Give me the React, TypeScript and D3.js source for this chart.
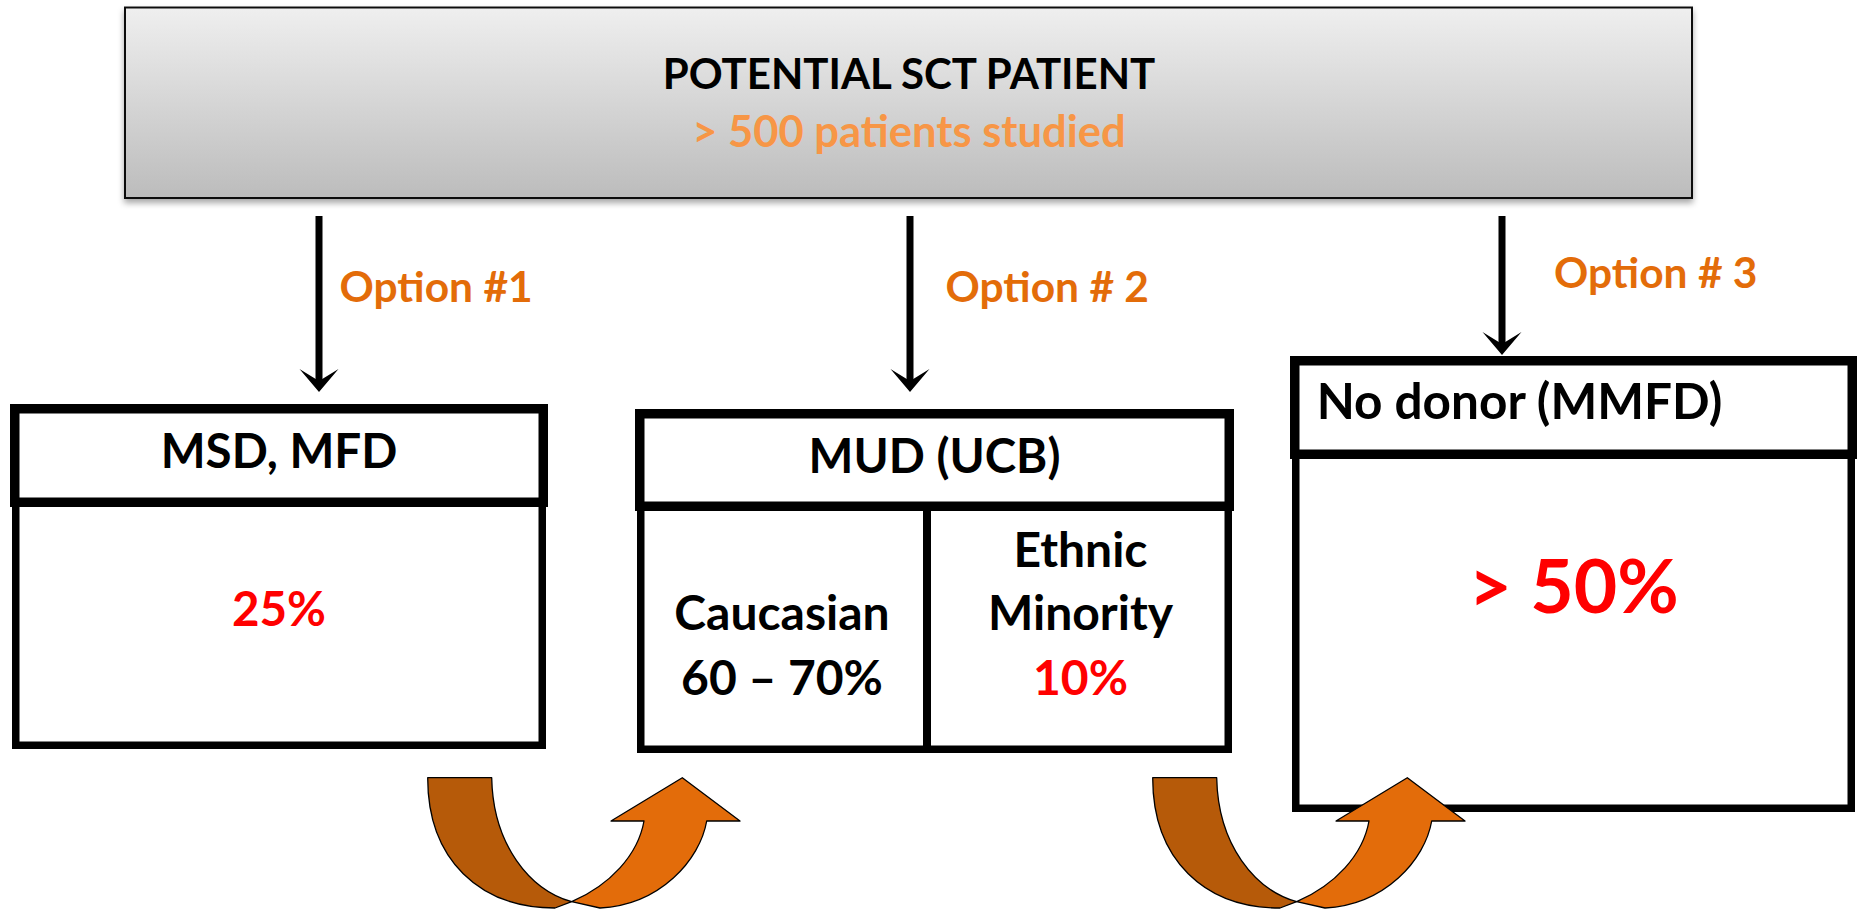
import { useEffect, useRef } from 'react';
import * as d3 from 'd3';

// text content of the diagram
const title = 'POTENTIAL SCT PATIENT';
const subtitle = '> 500 patients studied';
const optionLabels = ['Option #1', 'Option # 2', 'Option # 3'];
const donorTypes = ['MSD, MFD', 'MUD (UCB)', 'No donor (MMFD)'];
const donorRates = ['25%', null, '> 50%'];
const mudGroups = [['Caucasian'], ['Ethnic', 'Minority']];
const mudRates = ['60 – 70%', '10%'];

// layout (px)
const W = 1860;
const H = 909;
const FONT = 'Lato, "Open Sans", sans-serif';
const boxes = [
  { x0: 10, x1: 548, top: 404, div: 507, bot: 749 },
  { x0: 635, x1: 1234, top: 409, div: 511, bot: 753 },
  { x0: 1290, x1: 1857, top: 356, div: 459, bot: 812 },
];
const arrowX = [319, 910, 1502];
const arrowTip = [392, 392, 355];
const optionPos = [[339.5, 301.7], [945.5, 301.7], [1554, 287.5]];
const uturnOffsets = [0, 725];

const App = () => {
  const svgRef = useRef(null);

  useEffect(() => {
    if (!svgRef.current) return;
    const svg = d3.select(svgRef.current);
    svg.selectAll('*').remove();

    const defs = svg.append('defs');
    const grad = defs.append('linearGradient')
      .attr('id', 'topGrad')
      .attr('x1', 0).attr('y1', 0).attr('x2', 0).attr('y2', 1);
    grad.append('stop').attr('offset', '0%').attr('stop-color', '#efefef');
    grad.append('stop').attr('offset', '100%').attr('stop-color', '#bcbcbc');
    defs.append('filter')
      .attr('id', 'shadow')
      .attr('x', '-5%').attr('y', '-10%').attr('width', '110%').attr('height', '130%')
      .append('feDropShadow')
      .attr('dx', 0).attr('dy', 4).attr('stdDeviation', 3)
      .attr('flood-color', '#000').attr('flood-opacity', 0.35);

    // top box
    svg.append('rect')
      .attr('x', 125).attr('y', 7.5)
      .attr('width', 1567).attr('height', 190.5)
      .attr('fill', 'url(#topGrad)')
      .attr('stroke', '#111')
      .attr('stroke-width', 2)
      .attr('filter', 'url(#shadow)');

    svg.append('text')
      .attr('x', 909).attr('y', 89)
      .attr('text-anchor', 'middle')
      .attr('font-size', 42)
      .attr('fill', '#000')
      .text(title);
    svg.append('text')
      .attr('x', 909).attr('y', 146.5)
      .attr('text-anchor', 'middle')
      .attr('font-size', 43.5)
      .attr('fill', '#f79646')
      .text(subtitle);

    // straight arrows + option labels
    arrowX.forEach((x, i) => {
      const tip = arrowTip[i];
      svg.append('line')
        .attr('x1', x).attr('x2', x)
        .attr('y1', 216).attr('y2', tip - 10)
        .attr('stroke', '#000')
        .attr('stroke-width', 7);
      const p = d3.path();
      p.moveTo(x, tip);
      p.lineTo(x - 19.5, tip - 23);
      p.lineTo(x, tip - 11);
      p.lineTo(x + 19.5, tip - 23);
      p.closePath();
      svg.append('path').attr('d', p.toString()).attr('fill', '#000');

      svg.append('text')
        .attr('x', optionPos[i][0]).attr('y', optionPos[i][1])
        .attr('font-size', 42.5)
        .attr('fill', '#e36c09')
        .text(optionLabels[i]);
    });

    // donor boxes
    const sh = 9.5;
    const sb = 7.5;
    boxes.forEach((b, i) => {
      const g = svg.append('g');
      g.append('rect')
        .attr('x', b.x0 + 2 + sb / 2)
        .attr('y', b.div - 5)
        .attr('width', b.x1 - b.x0 - 4 - sb)
        .attr('height', b.bot - sb / 2 - (b.div - 5))
        .attr('fill', '#fff')
        .attr('stroke', '#000')
        .attr('stroke-width', sb);
      g.append('rect')
        .attr('x', b.x0 + sh / 2)
        .attr('y', b.top + sh / 2)
        .attr('width', b.x1 - b.x0 - sh)
        .attr('height', b.div - b.top - sh)
        .attr('fill', '#fff')
        .attr('stroke', '#000')
        .attr('stroke-width', sh);

      const left = i === 2;
      g.append('text')
        .attr('x', left ? b.x0 + 26.7 : (b.x0 + b.x1) / 2)
        .attr('y', i === 0 ? 468 : i === 1 ? 473 : 419)
        .attr('text-anchor', left ? 'start' : 'middle')
        .attr('font-size', left ? 49.5 : 47.5)
        .attr('fill', '#000')
        .text(donorTypes[i]);

      if (donorRates[i]) {
        g.append('text')
          .attr('x', (b.x0 + b.x1) / 2)
          .attr('y', i === 0 ? 626 : 613)
          .attr('text-anchor', 'middle')
          .attr('font-size', i === 2 ? 75 : 47.5)
          .attr('fill', '#ff0000')
          .text(donorRates[i]);
      }
    });

    // MUD split cell
    const mud = boxes[1];
    const splitX = 927;
    svg.append('line')
      .attr('x1', splitX).attr('x2', splitX)
      .attr('y1', mud.div - 2).attr('y2', mud.bot - 2)
      .attr('stroke', '#000')
      .attr('stroke-width', 8);
    const cellCx = [(mud.x0 + splitX) / 2 + 1, (splitX + mud.x1) / 2];
    mudGroups.forEach((lines, i) => {
      lines.forEach((t, j) => {
        svg.append('text')
          .attr('x', cellCx[i])
          .attr('y', 630 - (lines.length - 1 - j) * 63.3)
          .attr('text-anchor', 'middle')
          .attr('font-size', 48)
          .attr('fill', '#000')
          .text(t);
      });
      svg.append('text')
        .attr('x', cellCx[i])
        .attr('y', 695)
        .attr('text-anchor', 'middle')
        .attr('font-size', 48)
        .attr('fill', i === 1 ? '#ff0000' : '#000')
        .text(mudRates[i]);
    });

    // curved (u-turn) arrows
    uturnOffsets.forEach(dx => {
      const g = svg.append('g').attr('transform', `translate(${dx},0)`);
      const back = d3.path();
      back.moveTo(427.7, 777.7);
      back.lineTo(491.7, 777.7);
      back.bezierCurveTo(493, 845, 530, 890, 571.7, 901.7);
      back.lineTo(555, 908);
      back.bezierCurveTo(480, 908, 427.7, 860, 427.7, 777.7);
      back.closePath();
      g.append('path')
        .attr('d', back.toString())
        .attr('fill', '#b65a09')
        .attr('stroke', '#000')
        .attr('stroke-width', 1.3)
        .attr('stroke-linejoin', 'round');

      const front = d3.path();
      front.moveTo(571.7, 901.7);
      front.bezierCurveTo(610, 885, 638, 855, 644, 821);
      front.lineTo(611, 821);
      front.lineTo(682.3, 777.7);
      front.lineTo(740, 821);
      front.lineTo(706.7, 821);
      front.bezierCurveTo(700, 860, 660, 905, 600, 908);
      front.closePath();
      g.append('path')
        .attr('d', front.toString())
        .attr('fill', '#e36c0a')
        .attr('stroke', '#000')
        .attr('stroke-width', 1.3)
        .attr('stroke-linejoin', 'round');
    });
  }, []);

  return (
    <svg
      ref={svgRef}
      width={W}
      height={H}
      style={{ position: 'absolute', left: 0, top: 0, display: 'block', background: '#fff' }}
      fontFamily={FONT}
      fontWeight="bold"
    />
  );
};

export default App;
